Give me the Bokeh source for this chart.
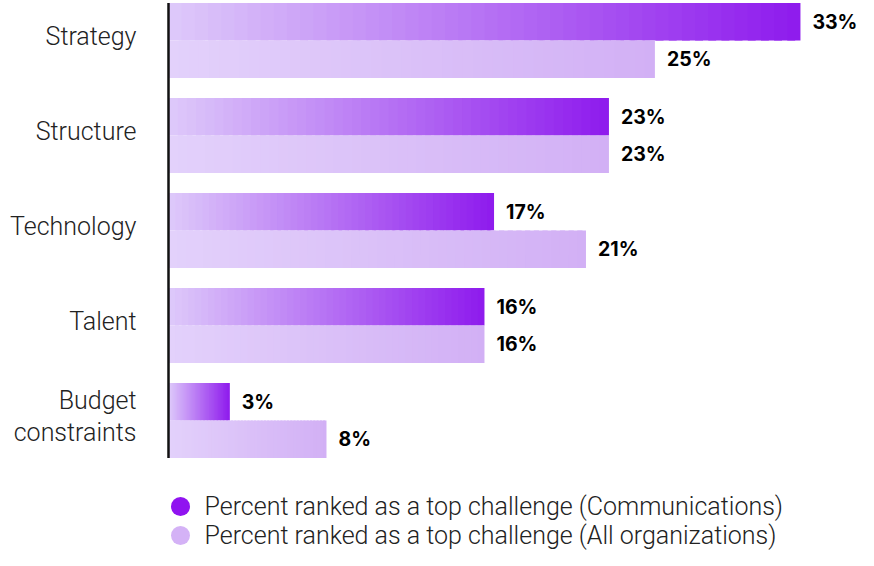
from bokeh.plotting import figure
from bokeh.models import Range1d
from bokeh.core.properties import value
from bokeh.embed import file_html
from bokeh.resources import INLINE

categories = ["Strategy", "Structure", "Technology", "Talent", "Budget\nconstraints"]
comm_values = [33, 23, 17, 16.5, 3.2]
all_values = [25.4, 23, 21.8, 16.5, 8.25]
comm_labels = ["33%", "23%", "17%", "16%", "3%"]
all_labels = ["25%", "23%", "21%", "16%", "8%"]
legend_labels = ["Percent ranked as a top challenge (Communications)",
                 "Percent ranked as a top challenge (All organizations)"]

W, H = 858, 550
zero_px, px_per = 168.0, 19.15
top_px, pitch = 40.0, 95.0
bar_h = 37.5 / pitch

p = figure(width=W, height=H, output_backend="svg", toolbar_location=None,
           x_range=Range1d(-zero_px / px_per, (W - zero_px) / px_per),
           y_range=Range1d((H - top_px) / pitch, -top_px / pitch),
           min_border=0, outline_line_color=None)
p.axis.visible = False
p.grid.visible = False
p.background_fill_color = "white"
p.border_fill_color = "white"

def hexc(c):
    return "#%02x%02x%02x" % tuple(int(round(v)) for v in c)

def gradient_bar(v, top, bottom, c0, c1, n=48):
    lefts, rights, cols = [], [], []
    for k in range(n):
        t = (k + 0.5) / n
        lefts.append(v * k / n)
        rights.append(min(v, v * (k + 1.6) / n))
        cols.append(hexc([c0[j] + (c1[j] - c0[j]) * t for j in range(3)]))
    p.quad(left=lefts, right=rights, top=[top] * n, bottom=[bottom] * n,
           fill_color=cols, line_color=None)

comm0, comm1 = (222, 202, 250), (142, 26, 237)
all0, all1 = (227, 209, 251), (210, 176, 245)

for i, cat in enumerate(categories):
    gradient_bar(comm_values[i], i - bar_h, i, comm0, comm1)
    gradient_bar(all_values[i], i, i + bar_h, all0, all1)

n = len(categories)
idx = list(range(n))
p.segment(x0=[0], y0=[-bar_h], x1=[0], y1=[n - 1 + bar_h],
          line_color="#111111", line_width=2.5)

light = value("Roboto Light")
bold = value("Inter")
p.text(x=[0] * n, y=[i - 0.04 for i in idx], text=categories, x_offset=-32,
       text_align="right", text_baseline="middle", text_font=light,
       text_font_size="25px", text_color="#222222", text_line_height=1.1)

p.text(x=comm_values, y=[i - bar_h / 2 for i in idx], text=comm_labels, x_offset=12,
       text_align="left", text_baseline="middle", text_font=bold,
       text_font_size="19.5px", text_font_style="bold", text_color="#000000")
p.text(x=all_values, y=[i + bar_h / 2 for i in idx], text=all_labels, x_offset=12,
       text_align="left", text_baseline="middle", text_font=bold,
       text_font_size="19.5px", text_font_style="bold", text_color="#000000")

leg_y = [(506 - top_px) / pitch, (535 - top_px) / pitch]
leg_x = (180 - zero_px) / px_per
p.scatter(x=[leg_x, leg_x], y=leg_y, size=19, marker="circle",
          fill_color=["#9013f0", "#d4b2f6"], line_color=None)
p.text(x=[leg_x, leg_x], y=leg_y, text=legend_labels, x_offset=24,
       text_align="left", text_baseline="middle", text_font=light,
       text_font_size="25px", text_color="#222222")

open("out.html", "w").write(file_html(p, INLINE))
